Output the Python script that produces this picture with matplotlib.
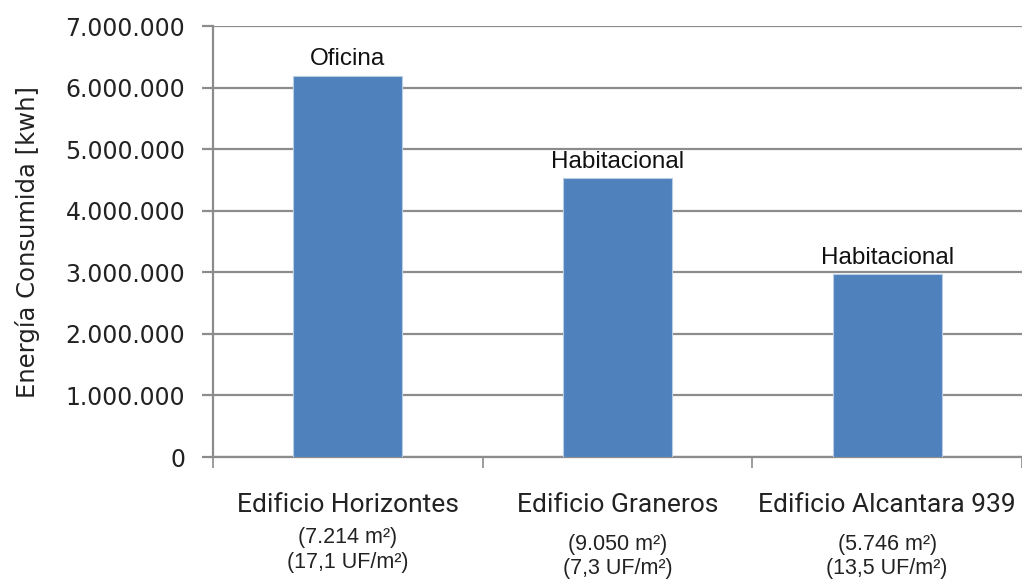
"""Energia consumida por edificio."""

import matplotlib
matplotlib.use("Agg")
import matplotlib.pyplot as plt
from matplotlib.ticker import FuncFormatter
import matplotlib.transforms as mtransforms

edificios = ["Edificio Horizontes", "Edificio Graneros", "Edificio Alcantara 939"]
superficie = ["(7.214 m²)", "(9.050 m²)", "(5.746 m²)"]
valor_uf = ["(17,1 UF/m²)", "(7,3 UF/m²)", "(13,5 UF/m²)"]
energia = [6190000, 4530000, 2970000]
uso = ["Oficina", "Habitacional", "Habitacional"]

# vertical position (axes fraction) of the 2nd/3rd label lines, per category
linea2_y = [-0.186, -0.204, -0.204]
linea3_y = [-0.244, -0.258, -0.258]


def miles(v, pos):
    return f"{int(v):,}".replace(",", ".")


def main():
    fig = plt.figure(figsize=(10.22, 5.81), dpi=100)
    ax = fig.add_axes([0.2084, 0.2134, 0.7916, 0.7418])

    x = range(len(edificios))
    ax.bar(x, energia, width=0.405, color="#4F81BD", edgecolor="#B9CDE5",
           linewidth=0.8, zorder=3)

    for i, (v, t) in enumerate(zip(energia, uso)):
        ax.annotate(t, (i, v), xytext=(0, 4), textcoords="offset points",
                    ha="center", va="bottom", fontsize=17.5,
                    family="Liberation Sans", color="#111111")

    ax.set_xlim(-0.5, 2.5)
    ax.set_ylim(0, 7000000)
    ax.set_yticks(range(0, 7000001, 1000000))
    ax.yaxis.set_major_formatter(FuncFormatter(miles))
    ax.grid(axis="y", color="#8C8C8C", linewidth=1.6, zorder=0)
    ax.set_axisbelow(True)

    ax.set_xticks([-0.5, 0.5, 1.5, 2.5])
    ax.set_xticklabels([])
    ax.tick_params(axis="x", length=8, width=1.2, color="#8C8C8C", direction="out")
    ax.tick_params(axis="y", length=8, width=1.6, color="#8C8C8C", pad=12,
                   labelsize=17, labelcolor="#222222")

    for s in ["top", "right"]:
        ax.spines[s].set_visible(False)
    ax.spines["left"].set_color("#8C8C8C")
    ax.spines["left"].set_linewidth(1.6)
    ax.spines["bottom"].set_color("#8C8C8C")
    ax.spines["bottom"].set_linewidth(1.6)

    ax.set_ylabel("Energía Consumida [kwh]", fontsize=17.5, color="#222222",
                  labelpad=18)

    trans = mtransforms.blended_transform_factory(ax.transData, ax.transAxes)
    for i in x:
        ax.text(i, -0.111, edificios[i], transform=trans, ha="center",
                va="center", fontsize=19, family="Roboto",
                color="#222222")
        ax.text(i, linea2_y[i], superficie[i], transform=trans, ha="center",
                va="center", fontsize=15.5, family="Liberation Sans",
                color="#222222")
        ax.text(i, linea3_y[i], valor_uf[i], transform=trans, ha="center",
                va="center", fontsize=15.5, family="Liberation Sans",
                color="#222222")

    fig.savefig("out.png", dpi=100)


if __name__ == "__main__":
    main()
